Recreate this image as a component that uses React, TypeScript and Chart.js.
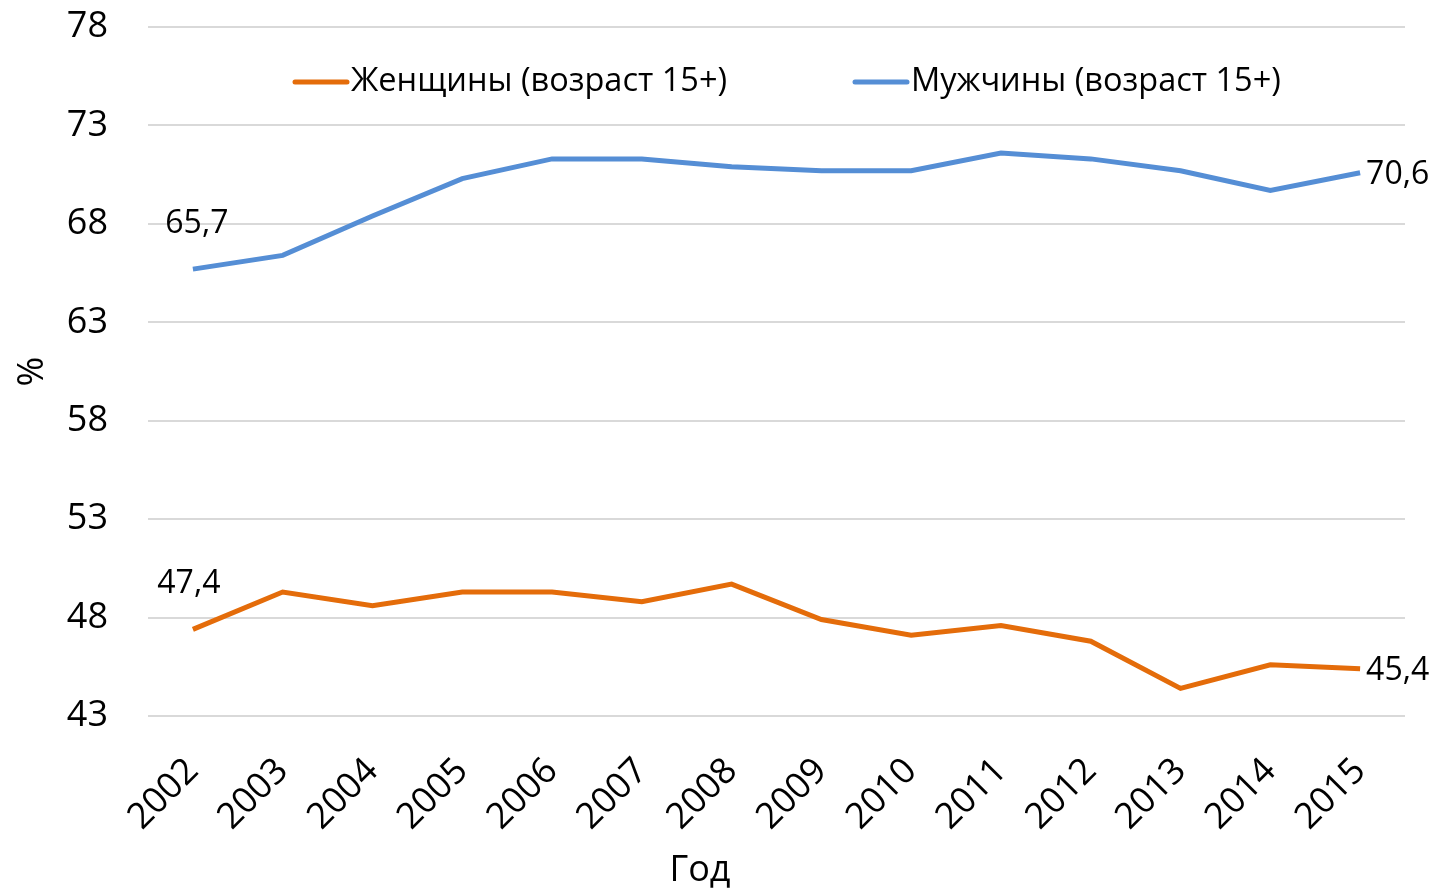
import React, { useEffect, useRef } from "react";
import { Chart, registerables } from "chart.js";

Chart.register(...registerables);

const years = ["2002", "2003", "2004", "2005", "2006", "2007", "2008", "2009", "2010", "2011", "2012", "2013", "2014", "2015"];
const women = [47.4, 49.3, 48.6, 49.3, 49.3, 48.8, 49.7, 47.9, 47.1, 47.6, 46.8, 44.4, 45.6, 45.4];
const men = [65.7, 66.4, 68.4, 70.3, 71.3, 71.3, 70.9, 70.7, 70.7, 71.6, 71.3, 70.7, 69.7, 70.6];
const seriesLabels = ["Женщины (возраст 15+)", "Мужчины (возраст 15+)"];
const seriesColors = ["#E46C0A", "#558ED5"];
const xTitle = "Год";
const yTitle = "%";
const yMin = 43;
const yMax = 78;
const yStep = 5;

const FONT = "'Open Sans', sans-serif";
const FS = 36;
const LABEL_FS = 32;
const LEGEND_FS = 32.5;

const fmt = (v: number) => v.toFixed(1).replace(".", ",");

const labelsPlugin = {
  id: "endLabels",
  afterDatasetsDraw(chart: any) {
    const ctx = chart.ctx;
    ctx.save();
    ctx.font = `${LABEL_FS}px ${FONT}`;
    ctx.fillStyle = "#000";
    chart.data.datasets.forEach((ds: any, i: number) => {
      const meta = chart.getDatasetMeta(i);
      const first = meta.data[0];
      const last = meta.data[meta.data.length - 1];
      ctx.textAlign = "center";
      ctx.textBaseline = "middle";
      ctx.fillText(fmt(ds.data[0]), first.x + (i === 1 ? 4 : -4), first.y - 45);
      ctx.textAlign = "left";
      ctx.textBaseline = "middle";
      ctx.fillText(fmt(ds.data[ds.data.length - 1]), last.x + 6, last.y + 2);
    });
    ctx.restore();
  },
};

const legendPlugin = {
  id: "insideLegend",
  afterDraw(chart: any) {
    const ctx = chart.ctx;
    ctx.save();
    ctx.font = `${LEGEND_FS}px ${FONT}`;
    const starts = [293, 853];
    const y = 82;
    chart.data.datasets.forEach((ds: any, i: number) => {
      const x = starts[i];
      ctx.strokeStyle = ds.borderColor;
      ctx.lineWidth = 5;
      ctx.lineCap = "round";
      ctx.beginPath();
      ctx.moveTo(x + 2, y);
      ctx.lineTo(x + 54, y);
      ctx.stroke();
      ctx.fillStyle = "#000";
      ctx.textAlign = "left";
      ctx.textBaseline = "middle";
      ctx.fillText(ds.label, x + 58, y);
    });
    // x-axis title
    ctx.font = `${FS}px ${FONT}`;
    ctx.textAlign = "center";
    ctx.textBaseline = "middle";
    ctx.fillText(xTitle, 700, 871);
    ctx.restore();
  },
};

export default function App() {
  const ref = useRef<HTMLCanvasElement>(null);
  useEffect(() => {
    if (!ref.current) return;
    const chart = new Chart(ref.current, {
      type: "line",
      data: {
        labels: years,
        datasets: [
          {
            label: seriesLabels[0],
            data: women,
            borderColor: seriesColors[0],
            backgroundColor: seriesColors[0],
            borderWidth: 5,
            pointRadius: 0,
            tension: 0,
          },
          {
            label: seriesLabels[1],
            data: men,
            borderColor: seriesColors[1],
            backgroundColor: seriesColors[1],
            borderWidth: 5,
            pointRadius: 0,
            tension: 0,
          },
        ],
      },
      options: {
        responsive: false,
        animation: false,
        layout: { padding: { left: 0, top: 27, right: 31, bottom: 0 } },
        plugins: {
          legend: { display: false },
          tooltip: { enabled: false },
        },
        scales: {
          x: {
            offset: true,
            grid: { display: false, drawTicks: false },
            border: { display: false },
            ticks: {
              font: { family: FONT, size: FS },
              color: "#000",
              maxRotation: 45,
              minRotation: 45,
              padding: 34,
              autoSkip: false,
            },
            title: { display: false },
            afterFit: (s: any) => {
              s.height = 173;
            },
          },
          y: {
            min: yMin,
            max: yMax,
            grid: {
              color: "#D9D9D9",
              lineWidth: 2,
              drawTicks: true,
              tickLength: 40,
              tickColor: "rgba(0,0,0,0)",
            },
            border: { display: false },
            ticks: {
              stepSize: yStep,
              font: { family: FONT, size: FS },
              color: "#000",
              padding: 0,
            },
            title: {
              display: true,
              text: yTitle,
              font: { family: FONT, size: FS, lineHeight: 1.2 },
              color: "#000",
              padding: { top: 11, bottom: 0 },
            },
            afterFit: (s: any) => {
              s.width = 148;
            },
          },
        },
      },
      plugins: [labelsPlugin, legendPlugin],
    });
    return () => chart.destroy();
  }, []);
  return (
    <canvas
      ref={ref}
      width={1436}
      height={889}
      style={{ position: "fixed", left: 0, top: 0, display: "block" }}
    />
  );
}
